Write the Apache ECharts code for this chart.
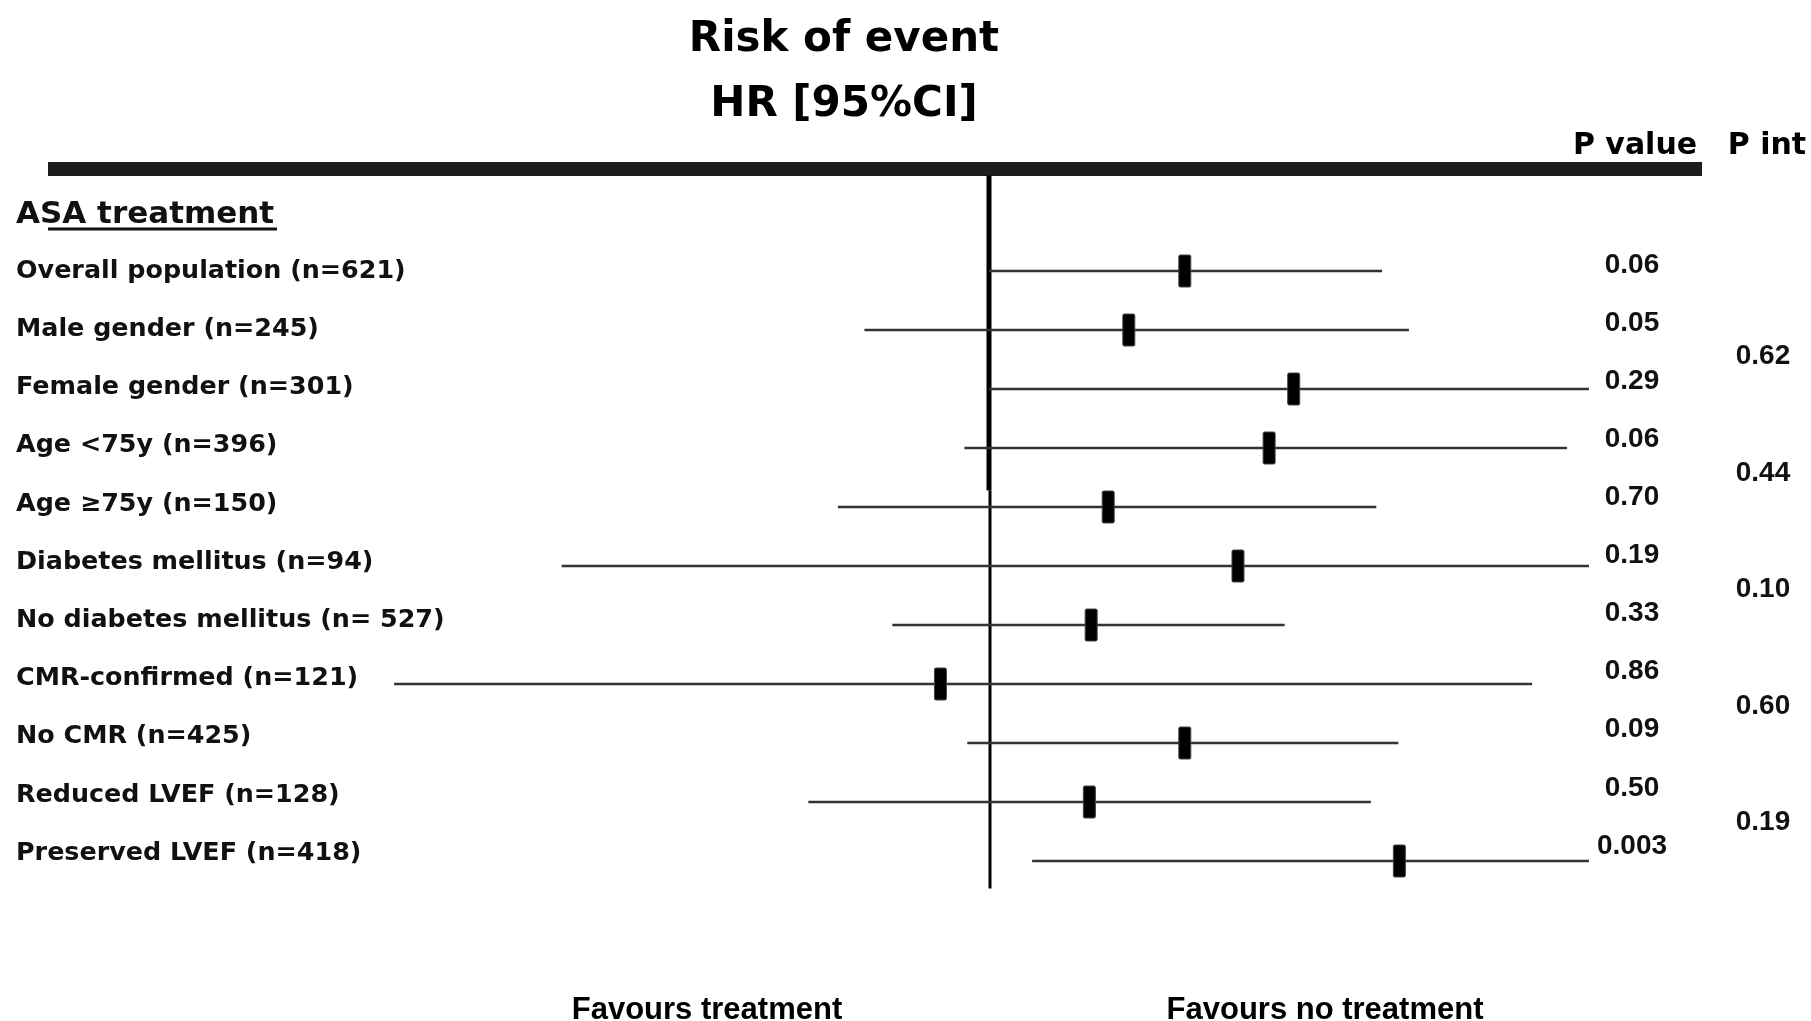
<!DOCTYPE html>
<html>
<head>
<meta charset="utf-8">
<script src="https://cdn.jsdelivr.net/npm/echarts@6/dist/echarts.min.js"></script>
<style>
html,body{margin:0;padding:0;background:#fff;}
#chart{width:1811px;height:1021px;}
</style>
</head>
<body>
<div id="chart"></div>
<script>
// ---------- data ----------
const headerLabel = 'ASA treatment';
const categories = [
  'Overall population (n=621)',
  'Male gender (n=245)',
  'Female gender (n=301)',
  'Age <75y (n=396)',
  'Age \u226575y (n=150)',
  'Diabetes mellitus (n=94)',
  'No diabetes mellitus (n= 527)',
  'CMR-confirmed (n=121)',
  'No CMR (n=425)',
  'Reduced LVEF (n=128)',
  'Preserved LVEF (n=418)'
];
const hr     = [2.12, 1.71, 3.22, 2.93, 1.58, 2.60, 1.48, 0.83, 2.12, 1.47, 4.83];
const ciLow  = [1.00, 0.62, 1.00, 0.91, 0.56, 0.194, 0.69, 0.102, 0.92, 0.50, 1.18];
const ciHigh = [4.52, 5.01, 10.0, 9.19, 4.42, 10.0, 3.11, 8.04, 4.81, 4.33, 10.0];
const pValues = ['0.06', '0.05', '0.29', '0.06', '0.70', '0.19', '0.33', '0.86', '0.09', '0.50', '0.003'];
const pInt = ['0.62', '0.44', '0.10', '0.60', '0.19'];
const refValue = 1;

// ---------- chart ----------
const rows = [headerLabel].concat(categories);
const chart = echarts.init(document.getElementById('chart'), null, {renderer: 'canvas'});
const DV = 'DejaVu Sans';
const LS = 'Liberation Sans';

const ciData = categories.map((c, i) => [i + 1, ciLow[i], hr[i], ciHigh[i]]);

const option = {
  backgroundColor: '#ffffff',
  animation: false,
  title: [
    {text: 'Risk of event', left: 839, top: 14, textAlign: 'center',
     textStyle: {fontFamily: DV, fontWeight: 'bold', fontSize: 42, color: '#000'}},
    {text: 'HR [95%CI]', left: 839, top: 79, textAlign: 'center',
     textStyle: {fontFamily: DV, fontWeight: 'bold', fontSize: 42, color: '#000'}},
    {text: 'P value', left: 1630, top: 126, textAlign: 'center',
     textStyle: {fontFamily: DV, fontWeight: 'bold', fontSize: 30, color: '#000'}},
    {text: 'P int', left: 1762, top: 126, textAlign: 'center',
     textStyle: {fontFamily: DV, fontWeight: 'bold', fontSize: 30, color: '#000'}},
    {text: 'Favours treatment', left: 702, top: 990, textAlign: 'center',
     textStyle: {fontFamily: LS, fontWeight: 'bold', fontSize: 31, color: '#000'}},
    {text: 'Favours no treatment', left: 1320, top: 990, textAlign: 'center',
     textStyle: {fontFamily: LS, fontWeight: 'bold', fontSize: 31, color: '#000'}}
  ],
  graphic: [
    {type: 'rect', shape: {x: 48, y: 162, width: 1654, height: 14}, style: {fill: '#1c1c1c'}},
    {type: 'line', shape: {x1: 48, y1: 229, x2: 277, y2: 229}, style: {stroke: '#111', lineWidth: 3}}
  ],
  grid: [
    {left: 389, right: 222, top: 182.5, height: 708},
    {left: 400, width: 50, top: 184, height: 698.4},
    {left: 1640, width: 40, top: 236, height: 639},
    {left: 1771, width: 20, top: 298.5, height: 582.5}
  ],
  xAxis: [
    {gridIndex: 0, type: 'log', logBase: 10, min: 0.1, max: 10, show: false},
    {gridIndex: 1, type: 'value', show: false},
    {gridIndex: 2, type: 'value', show: false},
    {gridIndex: 3, type: 'value', show: false}
  ],
  yAxis: [
    {gridIndex: 0, type: 'category', data: rows, inverse: true, show: false},
    {gridIndex: 1, type: 'category', data: rows, inverse: true,
     axisLine: {show: false}, axisTick: {show: false}, splitLine: {show: false},
     axisLabel: {
       align: 'left', margin: 384, color: '#111',
       formatter: function (v, i) { return i === 0 ? '{h|' + v + '}' : '{r|' + v + '}'; },
       rich: {
         h: {fontFamily: DV, fontWeight: 'bold', fontSize: 31, color: '#111', padding: [3, 0, 0, 0]},
         r: {fontFamily: DV, fontWeight: 'bold', fontSize: 25.4, color: '#111'}
       }
     }},
    {gridIndex: 2, type: 'category', data: pValues, inverse: true,
     axisLine: {show: false}, axisTick: {show: false}, splitLine: {show: false},
     axisLabel: {align: 'center', margin: 8, fontFamily: LS, fontWeight: 'bold', fontSize: 28, color: '#111'}},
    {gridIndex: 3, type: 'category', data: pInt, inverse: true,
     axisLine: {show: false}, axisTick: {show: false}, splitLine: {show: false},
     axisLabel: {align: 'center', margin: 8, fontFamily: LS, fontWeight: 'bold', fontSize: 28, color: '#111'}}
  ],
  series: [
    {
      type: 'custom', name: 'reference', xAxisIndex: 0, yAxisIndex: 0,
      data: [[refValue]],
      renderItem: function (params, api) {
        const cs = params.coordSys;
        const x = api.coord([refValue, 0])[0];
        const band = api.size([0, 1])[1];
        const yBreak = api.coord([refValue, 4])[1] + band * 0.72;
        return {
          type: 'group',
          children: [
            {type: 'line', shape: {x1: x, y1: cs.y - 7, x2: x, y2: yBreak},
             style: {stroke: '#000', lineWidth: 5}},
            {type: 'line', shape: {x1: x + 1, y1: yBreak, x2: x + 1, y2: cs.y + cs.height - 2},
             style: {stroke: '#000', lineWidth: 3}}
          ]
        };
      },
      silent: true
    },
    {
      type: 'custom', name: 'HR', xAxisIndex: 0, yAxisIndex: 0,
      data: ciData,
      encode: {x: [1, 2, 3], y: 0},
      renderItem: function (params, api) {
        const row = api.value(0);
        const lo = api.coord([api.value(1), row]);
        const mid = api.coord([api.value(2), row]);
        const hi = api.coord([api.value(3), row]);
        return {
          type: 'group',
          children: [
            {type: 'line', shape: {x1: lo[0], y1: lo[1], x2: hi[0], y2: hi[1]},
             style: {stroke: '#333', lineWidth: 2.5}},
            {type: 'rect', shape: {x: mid[0] - 6, y: mid[1] - 16, width: 12, height: 32, r: 1.5},
             style: {fill: '#000', stroke: '#444', lineWidth: 1}}
          ]
        };
      },
      silent: true
    }
  ]
};
chart.setOption(option);
</script>
</body>
</html>
